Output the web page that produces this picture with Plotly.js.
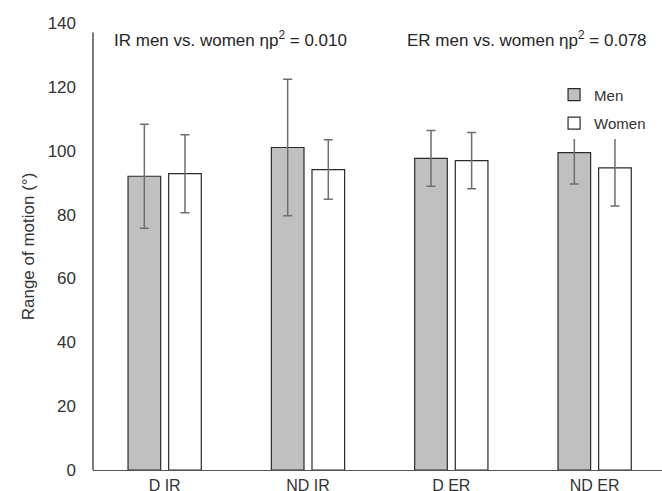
<!DOCTYPE html>
<html>
<head>
<meta charset="utf-8">
<script src="https://cdn.plot.ly/plotly-3.0.1.min.js"></script>
<style>html,body{margin:0;padding:0;background:#fff}#chart{width:662px;height:491px}</style>
</head>
<body>
<div id="chart"></div>
<script>
const categories = ['D IR', 'ND IR', 'D ER', 'ND ER'];
const menMean = [92.0, 101.0, 97.6, 99.4];
const menSD = [16.3, 21.4, 8.7, 9.8];
const womenMean = [92.8, 94.1, 96.9, 94.6];
const womenSD = [12.2, 9.3, 8.8, 11.9];
const yTicks = [0, 20, 40, 60, 80, 100, 120, 140];
const noteIR = 'IR men vs. women ηp<sup>2</sup> = 0.010';
const noteER = 'ER men vs. women ηp<sup>2</sup> = 0.078';

const FONT = '"Liberation Sans", Arial, Helvetica, sans-serif';
const errStyle = {type: 'data', visible: true, thickness: 1.5, width: 4.5, color: '#6e6e6e'};

const traces = [
  {
    type: 'bar', name: 'Men', x: categories, y: menMean,
    error_y: Object.assign({array: menSD}, errStyle),
    marker: {color: '#c0c0c0', line: {color: '#2b2b2b', width: 1.2}},
    legendgroup: 'men'
  },
  {
    type: 'bar', name: 'Women', x: categories, y: womenMean,
    error_y: Object.assign({array: womenSD}, errStyle),
    marker: {color: '#ffffff', line: {color: '#2b2b2b', width: 1.2}},
    legendgroup: 'women'
  }
];

const layout = {
  width: 662, height: 491,
  margin: {l: 92.5, r: 0, t: 23.3, b: 21},
  paper_bgcolor: '#ffffff', plot_bgcolor: '#ffffff',
  font: {family: FONT, size: 16, color: '#333333'},
  barmode: 'group', bargap: 0.433, bargroupgap: 0.197,
  showlegend: true,
  legend: {
    x: 0.8103, y: 0.876, xanchor: 'left', yanchor: 'top',
    bgcolor: '#ffffff', borderwidth: 0,
    font: {family: FONT, size: 15, color: '#333333'},
    traceorder: 'grouped', tracegroupgap: 6
  },
  xaxis: {
    type: 'category', range: [-0.5, 3.47],
    showline: true, linecolor: '#555555', linewidth: 1.3,
    showgrid: false, zeroline: false, ticks: '',
    tickfont: {family: FONT, size: 16, color: '#333333'},
    ticklabelstandoff: 0, fixedrange: true
  },
  yaxis: {
    range: [0, 140], tickvals: yTicks,
    showline: false, showgrid: false, zeroline: false, ticks: '',
    tickfont: {family: FONT, size: 17, color: '#333333'},
    ticklabelstandoff: 16,
    title: {text: 'Range of motion (°)', font: {family: FONT, size: 17, color: '#333333'}, standoff: 8},
    fixedrange: true
  },
  shapes: [
    {type: 'line', xref: 'paper', yref: 'y', x0: 0, x1: 0, y0: 0, y1: 137,
     line: {color: '#333333', width: 1.3}, layer: 'above'}
  ],
  annotations: [
    {text: noteIR, xref: 'paper', yref: 'paper', x: 0.2414, y: 0.965,
     xanchor: 'center', yanchor: 'middle', showarrow: false,
     font: {family: FONT, size: 17, color: '#262626'}},
    {text: noteER, xref: 'paper', yref: 'paper', x: 0.763, y: 0.965,
     xanchor: 'center', yanchor: 'middle', showarrow: false,
     font: {family: FONT, size: 17, color: '#262626'}}
  ]
};

Plotly.newPlot('chart', traces, layout, {displayModeBar: false, staticPlot: true});
</script>
</body>
</html>
